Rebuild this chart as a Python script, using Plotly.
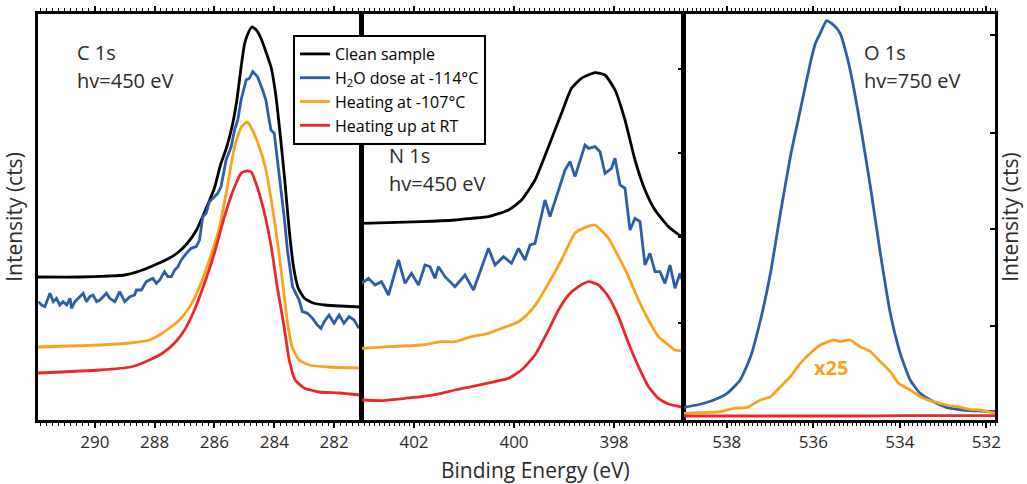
import plotly.graph_objects as go

# ---------------- data (intensity in arbitrary counts) ----------------
c1s_e_clean = [291.9, 290.5, 289.5, 289.0, 288.5, 288.0, 287.5, 287.2, 286.9, 286.6, 286.3, 286.0,
               285.8, 285.6, 285.4, 285.25, 285.1, 285.0, 284.9, 284.75, 284.6, 284.45, 284.3, 284.1,
               283.95, 283.8, 283.65, 283.5, 283.35, 283.2, 283.0, 282.7, 282.3, 281.8, 281.1]
c1s_clean = [429, 429, 432, 435, 447, 465, 486, 504, 531, 570, 630, 696,
             765, 816, 885, 960, 1065, 1125, 1155, 1179, 1170, 1146, 1110, 1056,
             975, 855, 720, 570, 456, 396, 366, 351, 345, 342, 339]

c1s_e_h2o = [291.89, 291.78, 291.67, 291.50, 291.39, 291.28, 291.17, 291.06, 290.94, 290.83,
             290.78, 290.67, 290.50, 290.39, 290.28, 290.17, 290.06, 289.94, 289.83, 289.61,
             289.50, 289.33, 289.17, 289.00, 288.83, 288.67, 288.61, 288.44, 288.28, 288.06,
             287.94, 287.83, 287.67, 287.56, 287.44, 287.33, 287.22, 287.11, 286.94, 286.78,
             286.61, 286.50, 286.39, 286.28, 286.17, 286.06, 285.89, 285.78, 285.61, 285.44,
             285.33, 285.22, 285.11, 284.94, 284.83, 284.72, 284.56, 284.39, 284.28, 284.17,
             284.11, 284.00, 283.89, 283.78, 283.67, 283.56, 283.39, 283.28, 283.17, 283.06,
             282.89, 282.72, 282.56, 282.44, 282.33, 282.17, 282.00, 281.83, 281.67, 281.50,
             281.33, 281.17]
c1s_h2o = [355, 345, 340, 380, 355, 365, 345, 355, 345, 365,
           335, 355, 370, 380, 355, 370, 375, 355, 360, 380,
           365, 355, 385, 355, 370, 375, 390, 390, 415, 425,
           410, 420, 445, 430, 430, 450, 460, 480, 500, 515,
           520, 540, 610, 620, 655, 665, 680, 700, 780, 820,
           870, 900, 960, 1020, 1025, 1045, 1030, 990, 960, 900,
           870, 860, 780, 700, 610, 510, 400, 380, 360, 325,
           320, 305, 285, 275, 295, 315, 290, 315, 290, 310,
           300, 275]

c1s_e_heat = [291.9, 289.83, 288.83, 288.17, 287.73, 287.5, 287.17, 286.83, 286.5, 286.17, 285.83,
              285.57, 285.33, 285.1, 284.9, 284.73, 284.5, 284.3, 284.1, 283.9, 283.73, 283.57,
              283.4, 283.17, 282.83, 282.17, 281.13]
c1s_heat = [219, 225, 231, 240, 261, 276, 300, 339, 399, 480, 579,
            699, 819, 879, 894, 870, 819, 759, 660, 540, 420, 300,
            219, 180, 165, 159, 156]

c1s_e_rt = [291.9, 289.83, 288.8, 288.17, 287.73, 287.33, 287.0, 286.67, 286.33, 286.0, 285.67,
            285.33, 285.1, 284.93, 284.77, 284.57, 284.33, 284.1, 283.9, 283.67, 283.5, 283.3,
            283.0, 282.5, 281.83, 281.13]
c1s_rt = [141, 150, 159, 180, 201, 231, 270, 330, 411, 501, 609,
          699, 741, 747, 744, 699, 621, 519, 399, 279, 180, 120,
          96, 84, 81, 75]

n1s_e_clean = [403.05, 401.85, 401.18, 400.85, 400.51, 400.11, 399.85, 399.58, 399.31, 399.05, 398.85,
               398.65, 398.38, 398.18, 397.98, 397.78, 397.58, 397.38, 397.18, 396.91, 396.65]
n1s_clean = [590, 595, 600, 605, 610, 630, 660, 720, 820, 920, 995,
             1025, 1042, 1035, 990, 900, 780, 690, 630, 580, 550]

n1s_e_h2o = [403.05, 402.91, 402.78, 402.65, 402.51, 402.31, 402.18, 402.05, 401.91, 401.78,
             401.68, 401.58, 401.51, 401.38, 401.18, 400.98, 400.81, 400.65, 400.51, 400.38,
             400.21, 400.05, 399.91, 399.78, 399.68, 399.58, 399.48, 399.38, 399.28, 399.11,
             398.98, 398.88, 398.78, 398.58, 398.51, 398.38, 398.28, 398.18, 398.05, 397.98,
             397.88, 397.78, 397.68, 397.58, 397.48, 397.38, 397.28, 397.18, 397.08, 396.98,
             396.88, 396.78, 396.68, 396.61]
n1s_h2o = [410, 425, 405, 415, 375, 480, 410, 440, 405, 465,
           460, 425, 460, 430, 400, 435, 390, 460, 515, 465,
           490, 470, 515, 480, 525, 530, 600, 660, 610, 690,
           750, 775, 730, 825, 815, 820, 805, 740, 755, 785,
           705, 695, 570, 605, 595, 465, 500, 445, 445, 410,
           465, 395, 440, 410]

n1s_e_heat = [403.05, 402.51, 401.85, 401.45, 401.18, 400.85, 400.51, 400.25, 399.91, 399.71, 399.55,
              399.31, 399.05, 398.78, 398.58, 398.38, 398.11, 397.91, 397.71, 397.51, 397.31, 397.11,
              396.91, 396.78, 396.61]
n1s_heat = [215, 220, 225, 235, 235, 250, 260, 275, 295, 320, 350,
            410, 480, 560, 577, 585, 545, 490, 430, 360, 300, 250,
            225, 210, 208]

n1s_e_rt = [403.05, 402.65, 402.18, 401.85, 401.45, 401.18, 400.85, 400.38, 400.11, 399.85, 399.58,
            399.31, 399.11, 398.91, 398.71, 398.51, 398.31, 398.11, 397.91, 397.71, 397.51, 397.31,
            397.11, 396.91, 396.61]
n1s_rt = [60, 58, 65, 70, 80, 90, 100, 115, 125, 150, 195,
          270, 330, 375, 400, 415, 405, 370, 310, 230, 160, 100,
          65, 48, 38]

o1s_e_h2o = [538.99, 538.69, 538.30, 537.99, 537.69, 537.45, 537.22, 536.99, 536.76, 536.53, 536.30,
             536.07, 535.95, 535.84, 535.69, 535.53, 535.38, 535.22, 535.07, 534.88, 534.68, 534.45,
             534.22, 533.99, 533.76, 533.53, 533.22, 532.92, 532.53, 532.15, 531.80]
o1s_h2o = [38, 45, 60, 80, 120, 190, 300, 440, 620, 790, 930,
           1070, 1130, 1160, 1198, 1185, 1160, 1090, 1000, 860, 700, 500,
           320, 200, 120, 80, 55, 38, 30, 27, 25]

o1s_e_heat = [538.99, 538.61, 538.15, 537.84, 537.53, 537.22, 536.99, 536.76, 536.53, 536.30, 536.07,
              535.84, 535.53, 535.38, 535.15, 534.92, 534.68, 534.45, 534.22, 534.03, 533.76, 533.53,
              533.22, 532.92, 532.68, 532.38, 532.15, 531.80]
o1s_heat_x25 = [20, 22, 25, 35, 38, 60, 70, 100, 130, 170, 200,
                225, 240, 235, 240, 220, 205, 175, 145, 110, 90, 70,
                55, 45, 40, 32, 30, 20]

o1s_e_rt = [538.99, 537.0, 536.0, 535.0, 534.0, 533.0, 531.80]
o1s_rt = [12, 12, 12, 12, 13, 13, 13]

# labelled tick spacing and minor tick spacing per panel (eV)
c1s_label_step, c1s_minor_step = 2, 0.2
n1s_label_step, n1s_minor_step = 2, 0.1
o1s_label_step, o1s_minor_step = 2, 0.1

names = ["Clean sample", "H<sub>2</sub>O dose at -114°C", "Heating at -107°C", "Heating up at RT"]
colors = ["#000000", "#2D5DA8", "#F9A21E", "#E8282B"]

FONT = "Open Sans"
TXT = "#2a2a2a"

ML, MR, MT, MB = 38, 32, 14, 64
W, H = 1027, 484
PW = W - ML - MR
PH = H - MT - MB
yr = [0, 1218]


def dom(a, b):
    return [(a - ML) / PW, (b - ML) / PW]


fig = go.Figure()


def add(x, y, idx, ax, show, smooth=True):
    fig.add_trace(go.Scatter(
        x=x, y=y, mode="lines", name=names[idx], legendgroup=str(idx), showlegend=show,
        line=dict(color=colors[idx], width=2.8, shape="spline" if smooth else "linear", smoothing=0.5),
        xaxis="x" + ax, yaxis="y" + ax))


add(c1s_e_clean, c1s_clean, 0, "", True)
add(c1s_e_h2o, c1s_h2o, 1, "", True, smooth=False)
add(c1s_e_heat, c1s_heat, 2, "", True)
add(c1s_e_rt, c1s_rt, 3, "", True)

add(n1s_e_clean, n1s_clean, 0, "2", False)
add(n1s_e_h2o, n1s_h2o, 1, "2", False, smooth=False)
add(n1s_e_heat, n1s_heat, 2, "2", False)
add(n1s_e_rt, n1s_rt, 3, "2", False)

add(o1s_e_h2o, o1s_h2o, 1, "3", False)
add(o1s_e_heat, o1s_heat_x25, 2, "3", False)
add(o1s_e_rt, o1s_rt, 3, "3", False)


def main_x(rng, step, mstep, domain, anchor):
    return dict(domain=domain, range=rng, anchor=anchor, tickmode="linear", tick0=0, dtick=step,
                ticks="outside", ticklen=5, tickwidth=1.5, tickcolor="black",
                showline=True, linecolor="black", linewidth=2.5, mirror="ticks",
                showgrid=False, zeroline=False, automargin=False,
                tickfont=dict(family=FONT, size=17, color=TXT),
                minor=dict(tick0=0, dtick=mstep, ticks="outside", ticklen=3, tickwidth=1.1,
                           tickcolor="black", showgrid=False))


fig.update_layout(
    width=W, height=H, margin=dict(l=ML, r=MR, t=MT, b=MB, autoexpand=False),
    paper_bgcolor="white", plot_bgcolor="white",
    font=dict(family=FONT, color=TXT, size=16),
    xaxis=main_x([291.9, 281.1], c1s_label_step, c1s_minor_step, dom(38, 361), "y"),
    xaxis2=main_x([403.04, 396.62], n1s_label_step, n1s_minor_step, dom(362, 683), "y2"),
    xaxis3=main_x([539.0, 531.8], o1s_label_step, o1s_minor_step, dom(683.5, 995), "y3"),
    yaxis=dict(anchor="x", range=yr, showticklabels=False, ticks="", showline=True, linecolor="black",
               linewidth=2.5, mirror=True, showgrid=False, zeroline=False, automargin=False,
               title=dict(text="Intensity (cts)", standoff=7, font=dict(family=FONT, size=21, color=TXT))),
    yaxis2=dict(anchor="x2", range=yr, side="right", showticklabels=False, tickmode="array",
                tickvals=[291, 549, 801, 1053], ticks="inside", ticklen=5, tickwidth=1.5, tickcolor="black",
                showline=True, linecolor="black", linewidth=2.5, mirror=True, showgrid=False, zeroline=False,
                automargin=False),
    yaxis3=dict(anchor="x3", range=yr, side="right", showticklabels=False, tickmode="array",
                tickvals=[282, 573, 861, 1155], ticks="inside", ticklen=5, tickwidth=1.5, tickcolor="black",
                showline=True, linecolor="black", linewidth=2.5, mirror=True, showgrid=False, zeroline=False,
                automargin=False,
                title=dict(text="Intensity (cts)", standoff=7, font=dict(family=FONT, size=21, color=TXT))),
    legend=dict(x=(293 - ML) / PW, y=(H - MB - 35) / PH, xanchor="left", yanchor="top",
                bgcolor="white", bordercolor="black", borderwidth=2, tracegroupgap=0,
                font=dict(family=FONT, size=16, color="black"), itemwidth=30),
    showlegend=True,
)

ann = [
    ("C 1s", "", 290.67, 1104), ("hv=450 eV", "", 290.67, 1020),
    ("N 1s", "2", 402.54, 795), ("hv=450 eV", "2", 402.54, 711),
    ("O 1s", "3", 534.87, 1104), ("hv=750 eV", "3", 534.87, 1020),
]
for t, a, x, y in ann:
    fig.add_annotation(text=t, x=x, y=y, xref="x" + a, yref="y" + a, showarrow=False,
                       xanchor="left", yanchor="middle", font=dict(family=FONT, size=20, color=TXT))

fig.add_annotation(text="<b>x25</b>", x=535.6, y=159, xref="x3", yref="y3", showarrow=False,
                   xanchor="center", yanchor="middle", font=dict(family=FONT, size=20, color="#F9A21E"))

fig.add_annotation(text="Binding Energy (eV)", x=(535 - ML) / PW, y=(H - MB - 470) / PH,
                   xref="paper", yref="paper", showarrow=False, xanchor="center", yanchor="middle",
                   font=dict(family=FONT, size=21, color=TXT))

fig.write_html("out.html", config={"displayModeBar": False},
               post_script="document.body.style.margin='0';document.body.style.padding='0';")
